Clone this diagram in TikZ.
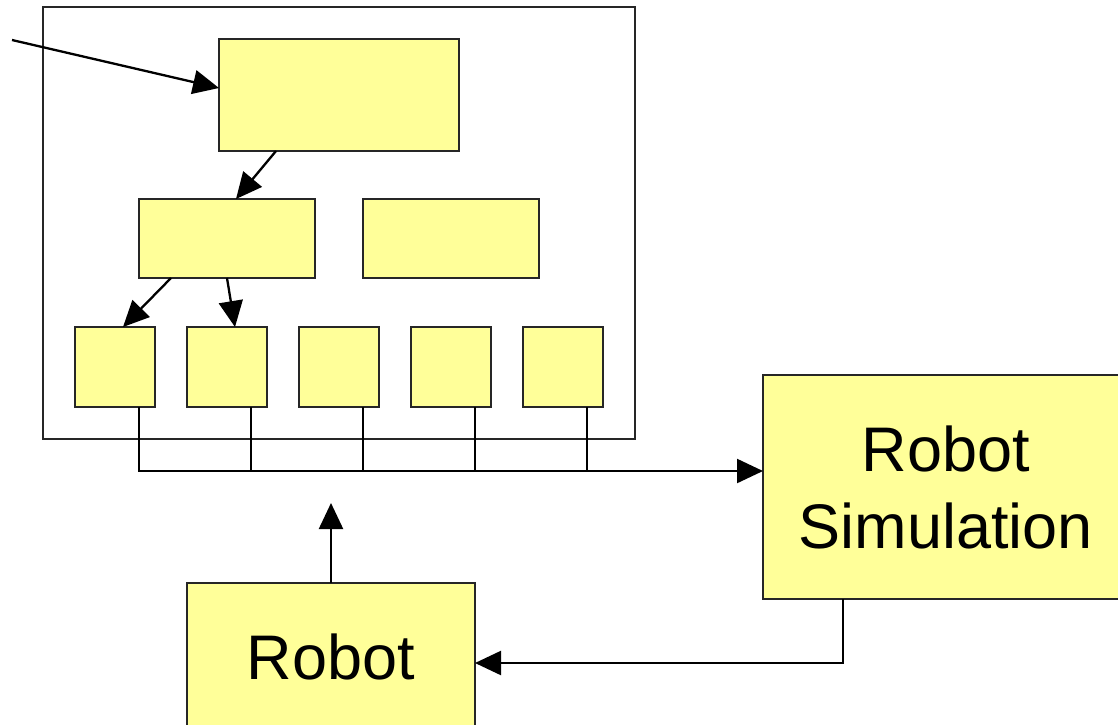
\documentclass[tikz,border=0pt]{standalone}
\usepackage{fontspec}
\setmainfont{Liberation Sans}
\usetikzlibrary{arrows.meta, calc}
\definecolor{boxyellow}{HTML}{FFFF99}

\begin{document}
\begin{tikzpicture}[
        x=1pt, y=-1pt,
        block/.style={rectangle, draw=black!85, fill=boxyellow, line width=1.6pt, inner sep=0pt, outer sep=0pt},
        frame/.style={rectangle, draw=black!85, line width=1.3pt, inner sep=0pt, outer sep=0pt},
        big/.style={block, font=\fontsize{63}{77}\selectfont, align=center},
        arrow/.style={-{Triangle[length=26pt, width=24pt]}, line width=2.3pt},
        wire/.style={line width=2.3pt}
    ]

    \useasboundingbox (0,0) rectangle (1118,724);

    % Controller frame
    \node[frame, minimum width=592pt, minimum height=432pt] (ctrl) at (339,223) {};

    % Top level
    \node[block, minimum width=240pt, minimum height=112pt] (top) at (339,95) {};

    % Middle level
    \node[block, minimum width=176pt, minimum height=79pt] (midL) at (227,238.5) {};
    \node[block, minimum width=176pt, minimum height=79pt] (midR) at (451,238.5) {};

    % Bottom level
    \foreach \i/\x in {1/115, 2/227, 3/339, 4/451, 5/563}
        \node[block, minimum width=80pt, minimum height=80pt] (s\i) at (\x,367) {};

    % Simulation and robot
    \node[big, minimum width=366pt, minimum height=224pt] (sim) at (946,487) {Robot\\Simulation};
    \node[big, minimum width=288pt, minimum height=148pt] (robot) at (331,657) {Robot};

    % Input into the top block
    \coordinate (src) at (12,40);
    \draw[arrow] (src) -- ($(top.west)+(0,-7)$);

    % Inside the controller
    \draw[arrow] ($(top.south west)+(57,0)$) -- ($(midL.north west)+(97,0)$);
    \draw[arrow] ($(midL.south west)+(32,0)$) -- ($(s1.north)+(8,0)$);
    \draw[arrow] ($(midL.south west)+(88,0)$) -- ($(s2.north)+(8,0)$);

    % Outputs to the simulation
    \draw[arrow] ($(s1.south)+(24,0)$) |- ($(sim.west)+(0,-16)$);
    \foreach \i in {2,...,5}
        \draw[wire] ($(s\i.south)+(24,0)$) -- ($(s\i.south)+(24,64)$);

    % Feedback loop
    \coordinate (ctrlin) at (331,503);
    \draw[arrow] (robot.north) -- (ctrlin);
    \draw[arrow] ($(sim.south west)+(80,0)$) |- ($(robot.east)+(0,6)$);

\end{tikzpicture}
\end{document}
